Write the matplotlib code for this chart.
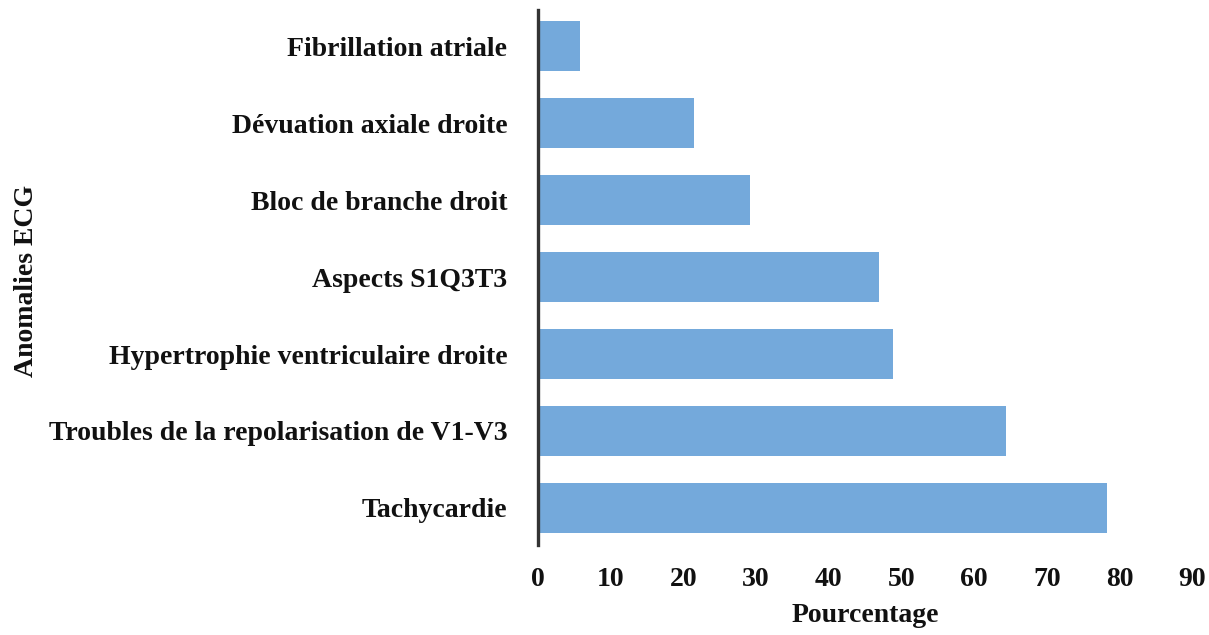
import matplotlib
matplotlib.use("Agg")
import matplotlib.pyplot as plt

plt.rcParams["font.family"] = ["Liberation Serif", "DejaVu Serif"]
plt.rcParams["font.weight"] = "bold"

labels = ["Tachycardie", "Troubles de la repolarisation de V1-V3",
          "Hypertrophie ventriculaire droite", "Aspects S1Q3T3",
          "Bloc de branche droit", "Dévuation axiale droite", "Fibrillation atriale"]
values = [78.3, 64.4, 48.8, 46.9, 29.2, 21.5, 5.8]
xticks = list(range(0, 100, 10))

BAR = "#74A9DB"; INK = "#111111"
FS = 20

fig = plt.figure(figsize=(12.09, 6.35), dpi=100)
ax = fig.add_axes([0.445, 0.142, 0.541, 0.842])

ax.barh(range(len(labels)), values, height=0.65, color=BAR, edgecolor="none")
ax.set_yticks(range(len(labels)))
ax.set_yticklabels(labels, fontsize=FS, fontweight="bold", color=INK)
ax.set_xticks(xticks)
ax.set_xticklabels([str(t) for t in xticks], fontsize=FS, fontweight="bold", color=INK)
ax.set_xlim(0, 90)
ax.set_ylim(-0.48, 6.47)

for s in ("top", "right", "bottom"):
    ax.spines[s].set_visible(False)
ax.spines["left"].set_color("#333333")
ax.spines["left"].set_linewidth(2.4)
ax.tick_params(axis="both", length=0)
ax.tick_params(axis="y", pad=22)
ax.tick_params(axis="x", pad=16)

ax.set_xlabel("Pourcentage", fontsize=FS, fontweight="bold", color=INK, labelpad=8)
ax.set_ylabel("Anomalies ECG", fontsize=FS, fontweight="bold", color=INK)
ax.yaxis.set_label_coords(-0.763, 0.493)

fig.savefig("out.png", dpi=100, facecolor="white")
